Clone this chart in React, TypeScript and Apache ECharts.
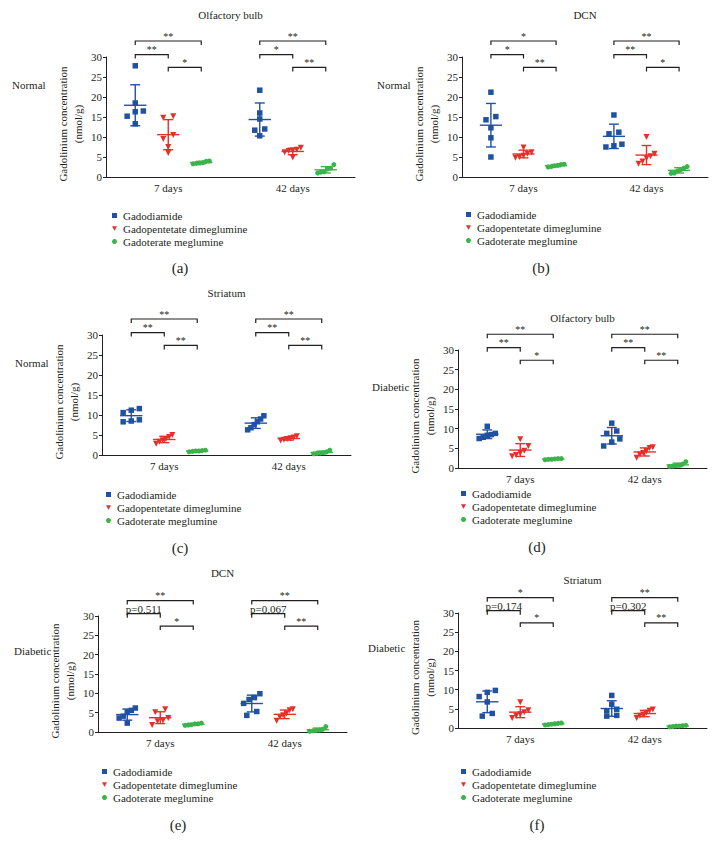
import React, { useEffect, useRef } from "react";
import * as echarts from "echarts";

// ---------- data ----------
const drugs = ["Gadodiamide", "Gadopentetate dimeglumine", "Gadoterate meglumine"];
const timepoints = ["7 days", "42 days"];
const regions = ["Olfactory bulb", "DCN", "Striatum", "Olfactory bulb", "DCN", "Striatum"];
const conditions = ["Normal", "Normal", "Normal", "Diabetic", "Diabetic", "Diabetic"];
const letters = ["(a)", "(b)", "(c)", "(d)", "(e)", "(f)"];
const yAxisName = "Gadolinium concentration\n(nmol/g)";

// Gadolinium concentration (nmol/g), order: [Gadodiamide, Gadopentetate dimeglumine, Gadoterate meglumine]
const olfactoryNormal7 = [[27.8, 18.5, 16.3, 16.5, 13.3, 15.2], [15.2, 14.8, 10.5, 9.5, 7.5, 6.0], [3.9, 3.6, 3.4, 3.3, 3.5, 4.0]];
const olfactoryNormal42 = [[21.7, 16.0, 14.5, 12.0, 11.7, 10.3], [7.3, 6.8, 6.5, 6.6, 6.2, 4.9], [3.1, 2.2, 2.0, 1.3, 1.0, 1.2]];
const dcnNormal7 = [[21.2, 15.1, 14.3, 12.3, 9.8, 5.0], [7.4, 6.2, 5.8, 5.3, 5.0, 4.8], [3.1, 2.8, 2.6, 2.5, 2.9, 3.2]];
const dcnNormal42 = [[15.5, 11.2, 10.8, 8.2, 7.8, 7.5], [10.0, 5.8, 5.2, 4.7, 3.9, 3.3], [2.6, 2.2, 1.8, 1.5, 1.0, 0.9]];
const striatumNormal7 = [[11.6, 11.2, 10.6, 8.8, 8.5, 8.3], [5.0, 4.5, 4.0, 3.7, 3.3, 2.8], [1.2, 1.1, 1.0, 0.9, 0.8, 1.0]];
const striatumNormal42 = [[9.8, 9.0, 8.3, 7.6, 6.8, 6.3], [4.7, 4.4, 4.2, 4.0, 3.8, 3.6], [1.2, 0.8, 0.6, 0.4, 0.3, 0.5]];
const olfactoryDiabetic7 = [[10.6, 8.8, 8.5, 8.3, 7.8, 7.5], [7.3, 5.6, 4.4, 3.8, 3.3, 3.0], [2.4, 2.2, 2.1, 2.3, 2.2, 2.4]];
const olfactoryDiabetic42 = [[11.4, 9.4, 8.8, 7.4, 6.6, 5.6], [5.3, 5.1, 4.3, 3.8, 3.4, 2.6], [1.6, 1.0, 0.7, 0.5, 0.6, 0.4]];
const dcnDiabetic7 = [[6.2, 5.6, 5.2, 4.1, 3.6, 2.3], [5.9, 5.1, 3.6, 3.0, 2.8, 1.8], [2.3, 2.1, 1.9, 1.8, 1.7, 2.1]];
const dcnDiabetic42 = [[9.9, 8.9, 8.4, 7.4, 5.3, 4.3], [5.9, 5.6, 4.8, 4.3, 3.9, 2.9], [1.4, 0.7, 0.5, 0.3, 0.2, 0.4]];
const striatumDiabetic7 = [[9.8, 9.3, 8.2, 6.8, 3.8, 3.1], [6.7, 4.6, 4.1, 3.6, 3.2, 2.6], [1.3, 1.1, 1.0, 0.9, 0.8, 1.2]];
const striatumDiabetic42 = [[8.5, 6.2, 4.9, 4.5, 3.3, 3.1], [4.8, 4.5, 4.0, 3.5, 3.2, 2.6], [0.7, 0.6, 0.5, 0.4, 0.3, 0.5]];

// significance labels per time point: [Gadodiamide vs Gadoterate, Gadodiamide vs Gadopentetate, Gadopentetate vs Gadoterate]
const sigOlfactoryNormal = [["**", "**", "*"], ["**", "*", "**"]];
const sigDcnNormal = [["*", "*", "**"], ["**", "**", "*"]];
const sigStriatumNormal = [["**", "**", "**"], ["**", "**", "**"]];
const sigOlfactoryDiabetic = [["**", "**", "*"], ["**", "**", "**"]];
const sigDcnDiabetic = [["**", "p=0.511", "*"], ["**", "p=0.067", "**"]];
const sigStriatumDiabetic = [["*", "p=0.174", "*"], ["**", "p=0.302", "**"]];

// bracket heights (nmol/g scale)
const bracketLevels = [34, 30.6, 27.4];

const panelData = [
  [olfactoryNormal7, olfactoryNormal42],
  [dcnNormal7, dcnNormal42],
  [striatumNormal7, striatumNormal42],
  [olfactoryDiabetic7, olfactoryDiabetic42],
  [dcnDiabetic7, dcnDiabetic42],
  [striatumDiabetic7, striatumDiabetic42],
];
const panelSig = [sigOlfactoryNormal, sigDcnNormal, sigStriatumNormal, sigOlfactoryDiabetic, sigDcnDiabetic, sigStriatumDiabetic];

// ---------- layout & style ----------
const FONT = "Liberation Serif";
const INK = "#231f20";
const COLORS = ["#2152a1", "#e4302a", "#3bb44a"];
const SYMBOLS = ["rect", "path://M0,0L10,0L5,9Z", "circle"];
const SIZES = [5.5, 6, 5];
const GROUP_OFFSET = [-0.53, 0, 0.53];

const layouts = [
  { left: 106, top: 57, width: 249, height: 120, titleY: 15, condX: 12, condY: 85, legendX: 112, legendY: 209, letterX: 180, letterY: 268 },
  { left: 462, top: 57, width: 246, height: 120, titleY: 15, condX: 377, condY: 85, legendX: 466, legendY: 208, letterX: 541, letterY: 268 },
  { left: 102, top: 335, width: 249, height: 120, titleY: 293, condX: 15, condY: 363, legendX: 106, legendY: 488, letterX: 180, letterY: 548 },
  { left: 458, top: 350, width: 249, height: 118, titleY: 318, condX: 372, condY: 387, legendX: 461, legendY: 487, letterX: 537, letterY: 547 },
  { left: 98, top: 616, width: 249, height: 116, titleY: 573, condX: 14, condY: 651, legendX: 102, legendY: 765, letterX: 178, letterY: 825 },
  { left: 458, top: 613, width: 249, height: 115, titleY: 580, condX: 368, condY: 648, legendX: 461, legendY: 765, letterX: 537, letterY: 825 },
];

function mean(v: number[]) {
  return v.reduce((a, b) => a + b, 0) / v.length;
}
function sd(v: number[]) {
  const m = mean(v);
  return Math.sqrt(v.reduce((a, b) => a + (b - m) * (b - m), 0) / (v.length - 1));
}
// beeswarm-like horizontal spread for overlapping points
function spread(values: number[]): number[] {
  const idx = values.map((_, i) => i).sort((a, b) => values[a] - values[b]);
  const offs = new Array(values.length).fill(0);
  let start = 0;
  for (let k = 1; k <= idx.length; k++) {
    if (k === idx.length || values[idx[k]] - values[idx[k - 1]] > 1.2) {
      const n = k - start;
      const step = n > 1 ? Math.min(0.16, 0.26 / (n - 1)) : 0;
      for (let j = 0; j < n; j++) offs[idx[start + j]] = (j - (n - 1) / 2) * step;
      start = k;
    }
  }
  return offs;
}

function buildOption() {
  const grid: any[] = [];
  const xAxis: any[] = [];
  const yAxis: any[] = [];
  const series: any[] = [];
  const legend: any[] = [];
  const graphic: any[] = [];

  layouts.forEach((L, p) => {
    grid.push({ left: L.left, top: L.top, width: L.width, height: L.height });
    xAxis.push({
      type: "category",
      gridIndex: p,
      data: timepoints,
      boundaryGap: true,
      axisLine: { lineStyle: { color: INK, width: 1 } },
      axisTick: { alignWithLabel: true, length: 3, lineStyle: { color: INK } },
      axisLabel: { fontFamily: FONT, fontSize: 11, color: INK, margin: 5 },
      splitLine: { show: false },
    });
    xAxis.push({ type: "value", gridIndex: p, min: 0, max: 4, show: false });
    yAxis.push({
      type: "value",
      gridIndex: p,
      min: 0,
      max: 30,
      interval: 5,
      axisLine: { show: true, lineStyle: { color: INK, width: 1 } },
      axisTick: { show: true, length: 3, lineStyle: { color: INK } },
      axisLabel: { fontFamily: FONT, fontSize: 11, color: INK, margin: 4 },
      splitLine: { show: false },
      name: yAxisName,
      nameLocation: "middle",
      nameRotate: 90,
      nameGap: 21,
      nameTextStyle: { fontFamily: FONT, fontSize: 11, color: INK, lineHeight: 15, padding: [0, 14, 0, 0] },
    });

    const groups = panelData[p];
    const errData: any[] = [];
    drugs.forEach((name, d) => {
      const pts: number[][] = [];
      groups.forEach((g, t) => {
        const vals = g[d];
        const offs = spread(vals);
        const cx = t * 2 + 1 + GROUP_OFFSET[d];
        vals.forEach((v, i) => pts.push([cx + offs[i], v]));
        errData.push([cx, mean(vals), sd(vals), d]);
      });
      series.push({
        type: "scatter",
        name,
        xAxisIndex: 2 * p + 1,
        yAxisIndex: p,
        symbol: SYMBOLS[d],
        symbolSize: SIZES[d],
        itemStyle: { color: COLORS[d], opacity: 1 },
        data: pts,
        z: 2,
      });
    });

    series.push({
      type: "custom",
      name: "sd" + p,
      xAxisIndex: 2 * p + 1,
      yAxisIndex: p,
      z: 3,
      silent: true,
      data: errData,
      renderItem: (params: any, api: any) => {
        const x = api.value(0);
        const m = api.value(1);
        const s = api.value(2);
        const color = COLORS[api.value(3)];
        const c = api.coord([x, m]);
        const top = api.coord([x, m + s]);
        const bot = api.coord([x, Math.max(0, m - s)]);
        const hm = api.size([0.18, 0])[0];
        const hc = api.size([0.08, 0])[0];
        const style = { stroke: color, lineWidth: 1.4 };
        return {
          type: "group",
          children: [
            { type: "line", shape: { x1: c[0] - hm, y1: c[1], x2: c[0] + hm, y2: c[1] }, style },
            { type: "line", shape: { x1: c[0], y1: top[1], x2: c[0], y2: bot[1] }, style },
            { type: "line", shape: { x1: c[0] - hc, y1: top[1], x2: c[0] + hc, y2: top[1] }, style },
            { type: "line", shape: { x1: c[0] - hc, y1: bot[1], x2: c[0] + hc, y2: bot[1] }, style },
          ],
        };
      },
    });

    const sig = panelSig[p];
    const brData: any[] = [];
    [0, 1].forEach((t) => {
      const c = t * 2 + 1;
      brData.push([c + GROUP_OFFSET[0], c + GROUP_OFFSET[2], bracketLevels[0], t, 0]);
      brData.push([c + GROUP_OFFSET[0], c + GROUP_OFFSET[1], bracketLevels[1], t, 1]);
      brData.push([c + GROUP_OFFSET[1], c + GROUP_OFFSET[2], bracketLevels[2], t, 2]);
    });
    series.push({
      type: "custom",
      name: "sig" + p,
      xAxisIndex: 2 * p + 1,
      yAxisIndex: p,
      z: 4,
      clip: false,
      silent: true,
      data: brData,
      renderItem: (params: any, api: any) => {
        const a = api.coord([api.value(0), api.value(2)]);
        const b = api.coord([api.value(1), api.value(2)]);
        const label = sig[api.value(3)][api.value(4)];
        const isP = label.startsWith("p");
        return {
          type: "group",
          children: [
            {
              type: "polyline",
              shape: { points: [[a[0], a[1] + 4], [a[0], a[1]], [b[0], a[1]], [b[0], a[1] + 4]] },
              style: { stroke: INK, lineWidth: 1.2, fill: "none" },
            },
            {
              type: "text",
              x: (a[0] + b[0]) / 2,
              y: a[1] + (isP ? 1 : 0),
              style: {
                text: label,
                fill: INK,
                font: `${isP ? 11 : 10}px ${FONT}`,
                textAlign: "center",
                textVerticalAlign: "bottom",
              },
            },
          ],
        };
      },
    });

    legend.push({
      data: drugs,
      orient: "vertical",
      left: L.legendX,
      top: L.legendY,
      itemWidth: 5,
      itemHeight: 5,
      itemGap: 0,
      padding: 0,
      selectedMode: false,
      textStyle: { fontFamily: FONT, fontSize: 11, color: INK, lineHeight: 13, padding: [0, 0, 0, 1] },
    });

    graphic.push({
      type: "text",
      x: L.left + L.width / 2,
      y: L.titleY,
      style: { text: regions[p], font: `11px ${FONT}`, fill: INK, textAlign: "center", textVerticalAlign: "middle" },
    });
    graphic.push({
      type: "text",
      x: L.condX,
      y: L.condY,
      style: { text: conditions[p], font: `11px ${FONT}`, fill: INK, textAlign: "left", textVerticalAlign: "middle" },
    });
    graphic.push({
      type: "text",
      x: L.letterX,
      y: L.letterY,
      style: { text: letters[p], font: `15px ${FONT}`, fill: INK, textAlign: "center", textVerticalAlign: "middle" },
    });
  });

  return {
    animation: false,
    backgroundColor: "#ffffff",
    textStyle: { fontFamily: FONT },
    grid,
    xAxis,
    yAxis,
    legend,
    series,
    graphic,
  };
}

export default function App() {
  const ref = useRef<HTMLDivElement>(null);
  useEffect(() => {
    const chart = echarts.init(ref.current!, null, { renderer: "svg" });
    chart.setOption(buildOption() as any);
    return () => chart.dispose();
  }, []);
  return (
    <div
      ref={ref}
      style={{ width: 720, height: 844, position: "absolute", left: 0, top: 0, background: "#fff" }}
    />
  );
}
